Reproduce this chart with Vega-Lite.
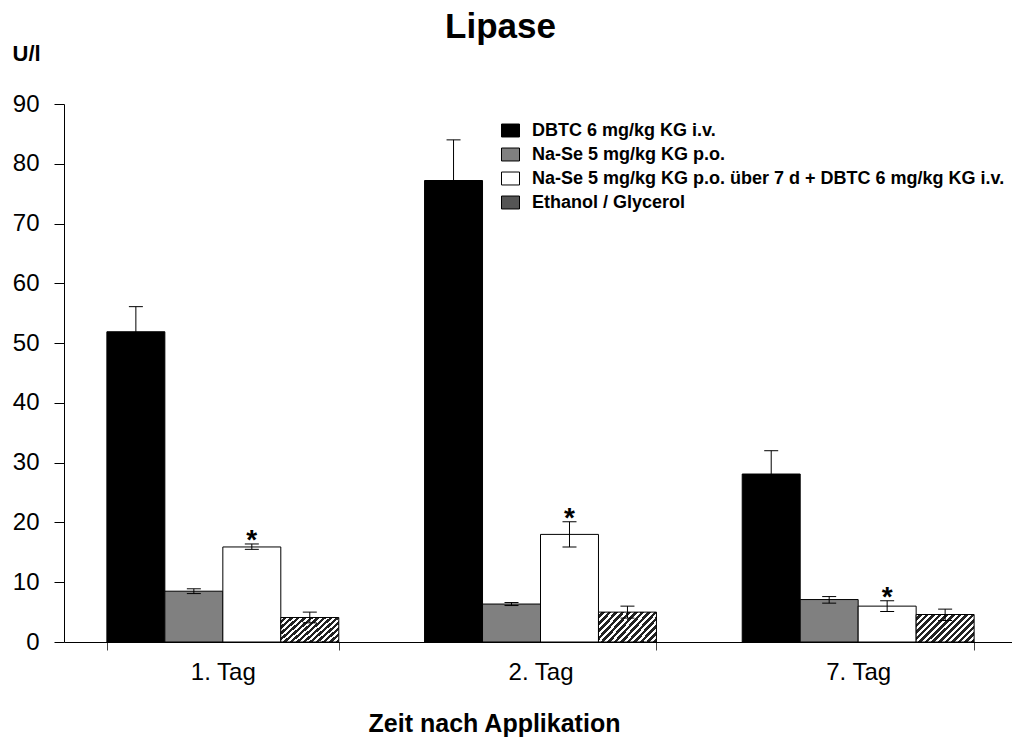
{
  "$schema": "https://vega.github.io/schema/vega-lite/v6.json",
  "width": 953,
  "height": 538,
  "autosize": {"type": "none"},
  "padding": {"left": 64, "top": 104, "right": 0, "bottom": 96},
  "background": "white",
  "title": {"text": "Lipase", "anchor": "middle", "fontSize": 35, "fontWeight": "bold", "font": "Liberation Sans", "color": "black", "dx": -40, "dy": 39, "baseline": "alphabetic", "offset": 8},
  "config": {
    "view": {"stroke": null},
    "font": "Liberation Sans",
    "axis": {"grid": false, "domainColor": "black", "domainWidth": 1, "tickColor": "black", "labelColor": "black", "titleColor": "black", "labelFont": "Liberation Sans", "titleFont": "Liberation Sans"},
    "legend": {"orient": "none", "legendX": 437, "legendY": 17, "padding": 0, "labelFontSize": 18, "labelFont": "Liberation Sans", "labelFontWeight": "bold", "labelColor": "black", "symbolType": "M-1,-0.72L1,-0.72L1,0.72L-1,0.72Z", "symbolSize": 324, "symbolStrokeColor": "black", "symbolStrokeWidth": 1, "symbolOpacity": 1, "rowPadding": 5, "labelOffset": 12, "labelLimit": 700}
  },
  "data": {
    "values": [
      {"t": "1. Tag", "g": "DBTC 6 mg/kg KG i.v.", "mean": 51.9, "lo": 47.7, "hi": 56.1, "star": false},
      {"t": "1. Tag", "g": "Na-Se 5 mg/kg KG p.o.", "mean": 8.5, "lo": 8.1, "hi": 8.9, "star": false},
      {"t": "1. Tag", "g": "Na-Se 5 mg/kg KG p.o. über 7 d + DBTC 6 mg/kg KG i.v.", "mean": 15.9, "lo": 15.5, "hi": 16.4, "star": true},
      {"t": "1. Tag", "g": "Ethanol / Glycerol", "mean": 4.1, "lo": 3.2, "hi": 5.0, "star": false},
      {"t": "2. Tag", "g": "DBTC 6 mg/kg KG i.v.", "mean": 77.2, "lo": 70.4, "hi": 84.0, "star": false},
      {"t": "2. Tag", "g": "Na-Se 5 mg/kg KG p.o.", "mean": 6.35, "lo": 6.1, "hi": 6.6, "star": false},
      {"t": "2. Tag", "g": "Na-Se 5 mg/kg KG p.o. über 7 d + DBTC 6 mg/kg KG i.v.", "mean": 18.0, "lo": 15.9, "hi": 20.1, "star": true},
      {"t": "2. Tag", "g": "Ethanol / Glycerol", "mean": 5.0, "lo": 4.0, "hi": 6.0, "star": false},
      {"t": "7. Tag", "g": "DBTC 6 mg/kg KG i.v.", "mean": 28.1, "lo": 24.2, "hi": 32.0, "star": false},
      {"t": "7. Tag", "g": "Na-Se 5 mg/kg KG p.o.", "mean": 7.1, "lo": 6.5, "hi": 7.6, "star": false},
      {"t": "7. Tag", "g": "Na-Se 5 mg/kg KG p.o. über 7 d + DBTC 6 mg/kg KG i.v.", "mean": 6.0, "lo": 5.1, "hi": 6.9, "star": true},
      {"t": "7. Tag", "g": "Ethanol / Glycerol", "mean": 4.6, "lo": 3.6, "hi": 5.5, "star": false}
    ]
  },
  "encoding": {
    "x": {
      "field": "t", "type": "nominal", "sort": ["1. Tag", "2. Tag", "7. Tag"],
      "scale": {"paddingInner": 0.27, "paddingOuter": 0.135},
      "axis": {"title": "Zeit nach Applikation", "labelAngle": 0, "labelFontSize": 24, "labelBaseline": "alphabetic", "labelPadding": 29, "tickSize": 8, "tickColor": "#444", "tickBand": "extent", "titleFontSize": 25, "titleFontWeight": "bold", "titleX": 430, "titleY": 89, "titleAlign": "center", "titleBaseline": "alphabetic"}
    },
    "xOffset": {
      "field": "g", "type": "nominal",
      "scale": {"domain": ["DBTC 6 mg/kg KG i.v.", "Na-Se 5 mg/kg KG p.o.", "Na-Se 5 mg/kg KG p.o. über 7 d + DBTC 6 mg/kg KG i.v.", "Ethanol / Glycerol"], "paddingInner": 0, "paddingOuter": 0}
    }
  },
  "layer": [
    {
      "mark": {"type": "bar", "stroke": "black", "strokeWidth": 1, "fillOpacity": 1},
      "encoding": {
        "y": {
          "field": "mean", "type": "quantitative",
          "scale": {"domain": [0, 90], "nice": false},
          "axis": {"values": [0, 10, 20, 30, 40, 50, 60, 70, 80, 90], "title": "U/l", "titleAngle": 0, "titleX": -52, "titleY": -44, "titleAlign": "left", "titleBaseline": "alphabetic", "titleFontSize": 22, "titleFontWeight": "bold", "labelFontSize": 24, "tickSize": 10, "labelPadding": 15}
        },
        "fill": {
          "condition": {"test": "datum.g === 'Ethanol / Glycerol'", "value": {"gradient": "linear", "x1": 0, "y1": 0, "x2": 1.2, "y2": 0.57, "stops": [
                {"offset": 0, "color": "#ffffff"}, {"offset": 0.035, "color": "#ffffff"}, {"offset": 0.035, "color": "#222222"}, {"offset": 0.077, "color": "#222222"},
                {"offset": 0.077, "color": "#ffffff"}, {"offset": 0.112, "color": "#ffffff"}, {"offset": 0.112, "color": "#222222"}, {"offset": 0.154, "color": "#222222"},
                {"offset": 0.154, "color": "#ffffff"}, {"offset": 0.189, "color": "#ffffff"}, {"offset": 0.189, "color": "#222222"}, {"offset": 0.231, "color": "#222222"},
                {"offset": 0.231, "color": "#ffffff"}, {"offset": 0.266, "color": "#ffffff"}, {"offset": 0.266, "color": "#222222"}, {"offset": 0.308, "color": "#222222"},
                {"offset": 0.308, "color": "#ffffff"}, {"offset": 0.343, "color": "#ffffff"}, {"offset": 0.343, "color": "#222222"}, {"offset": 0.385, "color": "#222222"},
                {"offset": 0.385, "color": "#ffffff"}, {"offset": 0.42, "color": "#ffffff"}, {"offset": 0.42, "color": "#222222"}, {"offset": 0.462, "color": "#222222"},
                {"offset": 0.462, "color": "#ffffff"}, {"offset": 0.497, "color": "#ffffff"}, {"offset": 0.497, "color": "#222222"}, {"offset": 0.538, "color": "#222222"},
                {"offset": 0.538, "color": "#ffffff"}, {"offset": 0.574, "color": "#ffffff"}, {"offset": 0.574, "color": "#222222"}, {"offset": 0.615, "color": "#222222"},
                {"offset": 0.615, "color": "#ffffff"}, {"offset": 0.65, "color": "#ffffff"}, {"offset": 0.65, "color": "#222222"}, {"offset": 0.692, "color": "#222222"},
                {"offset": 0.692, "color": "#ffffff"}, {"offset": 0.727, "color": "#ffffff"}, {"offset": 0.727, "color": "#222222"}, {"offset": 0.769, "color": "#222222"},
                {"offset": 0.769, "color": "#ffffff"}, {"offset": 0.804, "color": "#ffffff"}, {"offset": 0.804, "color": "#222222"}, {"offset": 0.846, "color": "#222222"},
                {"offset": 0.846, "color": "#ffffff"}, {"offset": 0.881, "color": "#ffffff"}, {"offset": 0.881, "color": "#222222"}, {"offset": 0.923, "color": "#222222"},
                {"offset": 0.923, "color": "#ffffff"}, {"offset": 0.958, "color": "#ffffff"}, {"offset": 0.958, "color": "#222222"}, {"offset": 1, "color": "#222222"}
              ]}},
          "field": "g", "type": "nominal",
          "scale": {
            "domain": ["DBTC 6 mg/kg KG i.v.", "Na-Se 5 mg/kg KG p.o.", "Na-Se 5 mg/kg KG p.o. über 7 d + DBTC 6 mg/kg KG i.v.", "Ethanol / Glycerol"],
            "range": ["#000000", "#808080", "#ffffff", "#555555"]
          },
          "legend": {"title": null}
        }
      }
    },
    {
      "mark": {"type": "rule", "color": "black", "strokeWidth": 1},
      "encoding": {
        "y": {"field": "lo", "type": "quantitative"},
        "y2": {"field": "hi"}
      }
    },
    {
      "mark": {"type": "tick", "color": "black", "size": 14, "thickness": 1, "opacity": 1},
      "encoding": {"y": {"field": "hi", "type": "quantitative"}}
    },
    {
      "mark": {"type": "tick", "color": "black", "size": 14, "thickness": 1, "opacity": 1},
      "encoding": {"y": {"field": "lo", "type": "quantitative"}}
    },
    {
      "transform": [{"filter": "datum.star"}],
      "mark": {"type": "text", "text": "*", "fontSize": 28, "fontWeight": "bold", "baseline": "alphabetic", "dy": 5, "color": "black"},
      "encoding": {"y": {"field": "hi", "type": "quantitative"}}
    }
  ]
}
